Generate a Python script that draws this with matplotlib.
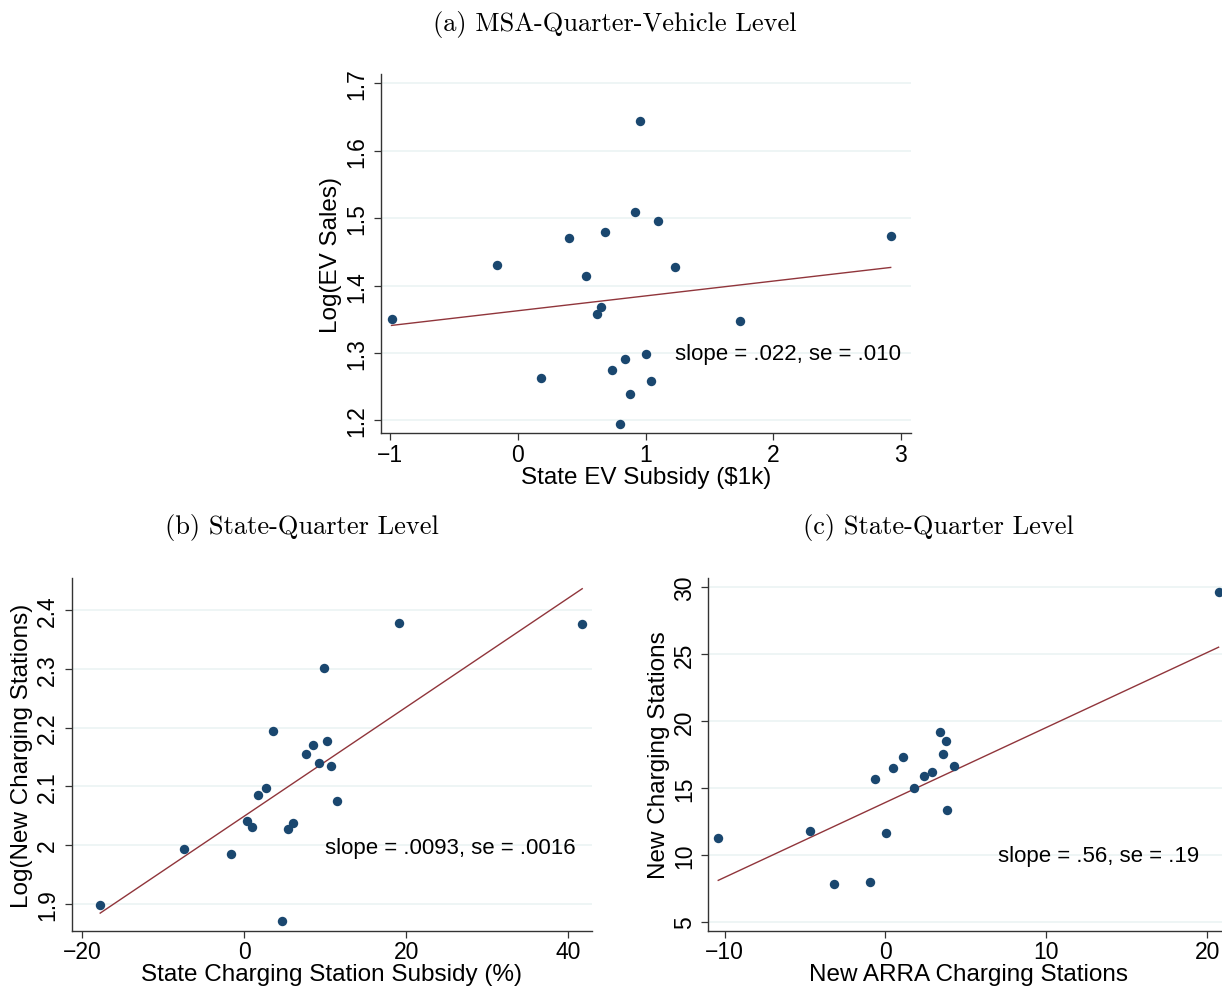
import numpy as np
import matplotlib.pyplot as plt
from matplotlib.ticker import FuncFormatter

# (a) MSA-Quarter-Vehicle Level
a_x = [-0.99, -0.16, 0.18, 0.40, 0.53, 0.68, 0.65, 0.62, 0.96, 0.92,
       1.10, 1.23, 1.00, 0.84, 0.74, 1.04, 0.88, 0.80, 1.74, 2.92]
a_y = [1.351, 1.430, 1.263, 1.471, 1.414, 1.479, 1.369, 1.358, 1.644, 1.510,
       1.496, 1.427, 1.299, 1.291, 1.275, 1.258, 1.239, 1.195, 1.348, 1.473]
a_fit = (1.3628, 0.022)

# (b) State-Quarter Level, charging subsidy
b_x = [-17.74, -7.45, -1.56, 0.33, 1.04, 1.70, 2.69, 3.63, 5.38, 6.08,
       4.67, 7.69, 8.49, 9.20, 10.19, 10.75, 11.42, 9.86, 19.10, 41.70]
b_y = [1.898, 1.993, 1.984, 2.041, 2.031, 2.086, 2.098, 2.194, 2.027, 2.038,
       1.870, 2.155, 2.171, 2.139, 2.178, 2.135, 2.075, 2.302, 2.378, 2.377]
b_fit = (2.049, 0.0093)

# (c) State-Quarter Level, ARRA stations
c_x = [-10.39, -4.69, -3.19, -0.97, -0.62, 0.05, 0.44, 1.11, 1.76, 2.40,
       2.91, 3.39, 3.74, 3.60, 4.25, 3.83, 20.70]
c_y = [11.25, 11.77, 7.85, 8.02, 15.70, 11.62, 16.50, 17.30, 15.00, 15.87,
       16.22, 19.20, 18.50, 17.57, 16.65, 13.33, 29.63]
c_fit = (13.93, 0.56)

NAVY = '#1a476f'
MAROON = '#90353b'
GRID = '#eaf2f3'
SANS = ['Liberation Sans', 'DejaVu Sans']

plt.rcParams['font.family'] = SANS


def fmt(v, pos):
    return f'{v:g}'.replace('-', '\u2212')


def panel(ax, xs, ys, fit, xlim, ylim, xticks, yticks, xlabel, ylabel, note, note_xy):
    ax.set_xlim(*xlim)
    ax.set_ylim(*ylim)
    ax.set_xticks(xticks)
    ax.set_yticks(yticks)
    ax.xaxis.set_major_formatter(FuncFormatter(fmt))
    ax.yaxis.set_major_formatter(FuncFormatter(fmt))
    ax.grid(axis='y', color=GRID, lw=1.1)
    ax.set_axisbelow(True)
    for s in ['top', 'right']:
        ax.spines[s].set_visible(False)
    for s in ['left', 'bottom']:
        ax.spines[s].set_color('#333333')
        ax.spines[s].set_linewidth(1.0)
    ax.tick_params(direction='out', length=5, width=0.9, color='#333333',
                   labelsize=16.5, pad=2)
    ax.tick_params(axis='y', labelrotation=90, pad=4)
    for lbl in ax.get_yticklabels():
        lbl.set_va('center')
    ax.scatter(xs, ys, s=46, color=NAVY, zorder=3, linewidths=0)
    x0, x1 = min(xs), max(xs)
    ax.plot([x0, x1], [fit[0] + fit[1] * x0, fit[0] + fit[1] * x1],
            color=MAROON, lw=1.0, zorder=2)
    ax.text(note_xy[0], note_xy[1], note, ha='right', va='center', fontsize=16)
    ax.set_xlabel(xlabel, fontsize=17.5, labelpad=0)
    ax.set_ylabel(ylabel, fontsize=17.5, labelpad=2)


fig = plt.figure(figsize=(12.22, 9.87), dpi=100)

ax_a = fig.add_axes([0.3115, 0.5600, 0.4342, 0.3640])
panel(ax_a, a_x, a_y, a_fit, (-1.075, 3.081), (1.181, 1.714),
      [-1, 0, 1, 2, 3], [1.2, 1.3, 1.4, 1.5, 1.6, 1.7],
      'State EV Subsidy ($1k)', 'Log(EV Sales)',
      'slope = .022, se = .010', (3.0, 1.3))

ax_b = fig.add_axes([0.0587, 0.0560, 0.4255, 0.3571])
panel(ax_b, b_x, b_y, b_fit, (-21.25, 42.87), (1.854, 2.4546),
      [-20, 0, 20, 40], [1.9, 2.0, 2.1, 2.2, 2.3, 2.4],
      'State Charging Station Subsidy (%)', 'Log(New Charging Stations)',
      'slope = .0093, se = .0016', (40.9, 1.995))

ax_c = fig.add_axes([0.5796, 0.0560, 0.4255, 0.3571])
panel(ax_c, c_x, c_y, c_fit, (-11.01, 21.3), (4.35, 30.67),
      [-10, 0, 10, 20], [5, 10, 15, 20, 25, 30],
      'New ARRA Charging Stations', 'New Charging Stations',
      'slope = .56, se = .19', (19.48, 10.0))

fig.text(614.5 / 1222, 1 - 24 / 987, '(a) MSA-Quarter-Vehicle Level',
         family='cmr10', fontsize=19, ha='center', va='center')
fig.text(302 / 1222, 1 - 528 / 987, '(b) State-Quarter Level',
         family='cmr10', fontsize=19, ha='center', va='center')
fig.text(938.5 / 1222, 1 - 528 / 987, '(c) State-Quarter Level',
         family='cmr10', fontsize=19, ha='center', va='center')

fig.savefig('out.png', dpi=100)
